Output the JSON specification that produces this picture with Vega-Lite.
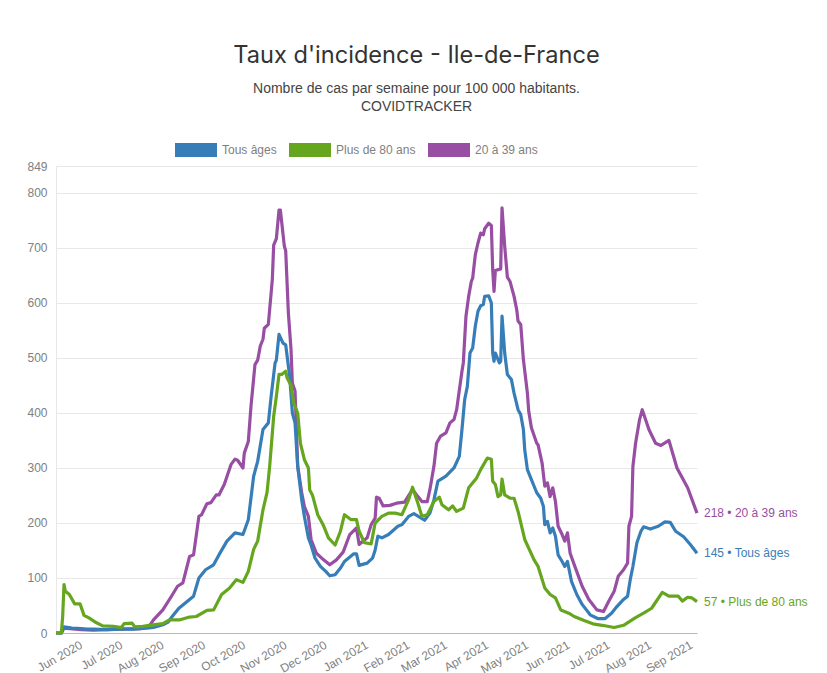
{"$schema":"https://vega.github.io/schema/vega-lite/v6.json","width":641,"height":467,"autosize":{"type":"none"},"padding":{"left":56,"top":166,"right":130,"bottom":40},"background":"white","title":{"text":"Taux d'incidence - Ile-de-France","subtitle":["Nombre de cas par semaine pour 100 000 habitants.","COVIDTRACKER"],"anchor":"middle","frame":"group","dx":40,"offset":15,"font":"Inter","fontSize":23.6,"fontWeight":"normal","color":"#333333","subtitleFont":"Liberation Sans","subtitleFontSize":14,"subtitleColor":"#444444","subtitlePadding":14,"subtitleLineHeight":18},"config":{"view":{"stroke":null},"font":"Liberation Sans"},"datasets":{"series":[
{"d":"2020-05-13","s":"20 à 39 ans","v":0},{"d":"2020-05-17","s":"20 à 39 ans","v":0},{"d":"2020-05-19","s":"20 à 39 ans","v":9},{"d":"2020-06-01","s":"20 à 39 ans","v":6},{"d":"2020-06-10","s":"20 à 39 ans","v":5},{"d":"2020-07-01","s":"20 à 39 ans","v":7},{"d":"2020-07-15","s":"20 à 39 ans","v":8},{"d":"2020-07-22","s":"20 à 39 ans","v":13},{"d":"2020-07-25","s":"20 à 39 ans","v":24},{"d":"2020-08-01","s":"20 à 39 ans","v":42},{"d":"2020-08-07","s":"20 à 39 ans","v":65},{"d":"2020-08-12","s":"20 à 39 ans","v":85},{"d":"2020-08-16","s":"20 à 39 ans","v":91},{"d":"2020-08-21","s":"20 à 39 ans","v":139},{"d":"2020-08-24","s":"20 à 39 ans","v":142},{"d":"2020-08-28","s":"20 à 39 ans","v":212},{"d":"2020-08-30","s":"20 à 39 ans","v":215},{"d":"2020-09-03","s":"20 à 39 ans","v":235},{"d":"2020-09-06","s":"20 à 39 ans","v":237},{"d":"2020-09-10","s":"20 à 39 ans","v":251},{"d":"2020-09-12","s":"20 à 39 ans","v":251},{"d":"2020-09-16","s":"20 à 39 ans","v":270},{"d":"2020-09-21","s":"20 à 39 ans","v":306},{"d":"2020-09-24","s":"20 à 39 ans","v":316},{"d":"2020-09-26","s":"20 à 39 ans","v":314},{"d":"2020-09-30","s":"20 à 39 ans","v":300},{"d":"2020-10-01","s":"20 à 39 ans","v":327},{"d":"2020-10-04","s":"20 à 39 ans","v":348},{"d":"2020-10-06","s":"20 à 39 ans","v":412},{"d":"2020-10-09","s":"20 à 39 ans","v":488},{"d":"2020-10-11","s":"20 à 39 ans","v":496},{"d":"2020-10-13","s":"20 à 39 ans","v":522},{"d":"2020-10-15","s":"20 à 39 ans","v":534},{"d":"2020-10-16","s":"20 à 39 ans","v":554},{"d":"2020-10-19","s":"20 à 39 ans","v":561},{"d":"2020-10-22","s":"20 à 39 ans","v":643},{"d":"2020-10-23","s":"20 à 39 ans","v":705},{"d":"2020-10-25","s":"20 à 39 ans","v":717},{"d":"2020-10-27","s":"20 à 39 ans","v":769},{"d":"2020-10-28","s":"20 à 39 ans","v":769},{"d":"2020-10-31","s":"20 à 39 ans","v":703},{"d":"2020-11-01","s":"20 à 39 ans","v":695},{"d":"2020-11-03","s":"20 à 39 ans","v":582},{"d":"2020-11-05","s":"20 à 39 ans","v":515},{"d":"2020-11-06","s":"20 à 39 ans","v":454},{"d":"2020-11-08","s":"20 à 39 ans","v":440},{"d":"2020-11-10","s":"20 à 39 ans","v":303},{"d":"2020-11-13","s":"20 à 39 ans","v":255},{"d":"2020-11-15","s":"20 à 39 ans","v":230},{"d":"2020-11-18","s":"20 à 39 ans","v":212},{"d":"2020-11-20","s":"20 à 39 ans","v":170},{"d":"2020-11-24","s":"20 à 39 ans","v":145},{"d":"2020-11-28","s":"20 à 39 ans","v":136},{"d":"2020-12-04","s":"20 à 39 ans","v":124},{"d":"2020-12-09","s":"20 à 39 ans","v":133},{"d":"2020-12-14","s":"20 à 39 ans","v":147},{"d":"2020-12-19","s":"20 à 39 ans","v":179},{"d":"2020-12-24","s":"20 à 39 ans","v":191},{"d":"2020-12-26","s":"20 à 39 ans","v":161},{"d":"2021-01-01","s":"20 à 39 ans","v":173},{"d":"2021-01-04","s":"20 à 39 ans","v":197},{"d":"2021-01-07","s":"20 à 39 ans","v":209},{"d":"2021-01-08","s":"20 à 39 ans","v":247},{"d":"2021-01-10","s":"20 à 39 ans","v":245},{"d":"2021-01-13","s":"20 à 39 ans","v":231},{"d":"2021-01-18","s":"20 à 39 ans","v":232},{"d":"2021-01-23","s":"20 à 39 ans","v":236},{"d":"2021-01-29","s":"20 à 39 ans","v":238},{"d":"2021-02-04","s":"20 à 39 ans","v":261},{"d":"2021-02-08","s":"20 à 39 ans","v":248},{"d":"2021-02-11","s":"20 à 39 ans","v":239},{"d":"2021-02-15","s":"20 à 39 ans","v":239},{"d":"2021-02-17","s":"20 à 39 ans","v":261},{"d":"2021-02-20","s":"20 à 39 ans","v":303},{"d":"2021-02-22","s":"20 à 39 ans","v":345},{"d":"2021-02-25","s":"20 à 39 ans","v":358},{"d":"2021-03-01","s":"20 à 39 ans","v":364},{"d":"2021-03-04","s":"20 à 39 ans","v":382},{"d":"2021-03-07","s":"20 à 39 ans","v":388},{"d":"2021-03-09","s":"20 à 39 ans","v":406},{"d":"2021-03-13","s":"20 à 39 ans","v":476},{"d":"2021-03-14","s":"20 à 39 ans","v":491},{"d":"2021-03-16","s":"20 à 39 ans","v":576},{"d":"2021-03-18","s":"20 à 39 ans","v":612},{"d":"2021-03-20","s":"20 à 39 ans","v":639},{"d":"2021-03-21","s":"20 à 39 ans","v":645},{"d":"2021-03-23","s":"20 à 39 ans","v":688},{"d":"2021-03-25","s":"20 à 39 ans","v":709},{"d":"2021-03-27","s":"20 à 39 ans","v":727},{"d":"2021-03-29","s":"20 à 39 ans","v":724},{"d":"2021-03-30","s":"20 à 39 ans","v":735},{"d":"2021-04-02","s":"20 à 39 ans","v":745},{"d":"2021-04-04","s":"20 à 39 ans","v":741},{"d":"2021-04-05","s":"20 à 39 ans","v":661},{"d":"2021-04-06","s":"20 à 39 ans","v":621},{"d":"2021-04-07","s":"20 à 39 ans","v":659},{"d":"2021-04-11","s":"20 à 39 ans","v":662},{"d":"2021-04-12","s":"20 à 39 ans","v":773},{"d":"2021-04-14","s":"20 à 39 ans","v":703},{"d":"2021-04-16","s":"20 à 39 ans","v":647},{"d":"2021-04-18","s":"20 à 39 ans","v":639},{"d":"2021-04-21","s":"20 à 39 ans","v":612},{"d":"2021-04-23","s":"20 à 39 ans","v":588},{"d":"2021-04-24","s":"20 à 39 ans","v":567},{"d":"2021-04-26","s":"20 à 39 ans","v":561},{"d":"2021-04-28","s":"20 à 39 ans","v":497},{"d":"2021-05-01","s":"20 à 39 ans","v":436},{"d":"2021-05-02","s":"20 à 39 ans","v":403},{"d":"2021-05-04","s":"20 à 39 ans","v":373},{"d":"2021-05-08","s":"20 à 39 ans","v":345},{"d":"2021-05-09","s":"20 à 39 ans","v":342},{"d":"2021-05-12","s":"20 à 39 ans","v":309},{"d":"2021-05-14","s":"20 à 39 ans","v":267},{"d":"2021-05-16","s":"20 à 39 ans","v":273},{"d":"2021-05-18","s":"20 à 39 ans","v":248},{"d":"2021-05-20","s":"20 à 39 ans","v":264},{"d":"2021-05-22","s":"20 à 39 ans","v":239},{"d":"2021-05-24","s":"20 à 39 ans","v":194},{"d":"2021-05-27","s":"20 à 39 ans","v":179},{"d":"2021-05-29","s":"20 à 39 ans","v":167},{"d":"2021-05-31","s":"20 à 39 ans","v":182},{"d":"2021-06-02","s":"20 à 39 ans","v":145},{"d":"2021-06-06","s":"20 à 39 ans","v":118},{"d":"2021-06-11","s":"20 à 39 ans","v":85},{"d":"2021-06-16","s":"20 à 39 ans","v":61},{"d":"2021-06-22","s":"20 à 39 ans","v":42},{"d":"2021-06-27","s":"20 à 39 ans","v":39},{"d":"2021-07-01","s":"20 à 39 ans","v":58},{"d":"2021-07-05","s":"20 à 39 ans","v":76},{"d":"2021-07-08","s":"20 à 39 ans","v":103},{"d":"2021-07-12","s":"20 à 39 ans","v":115},{"d":"2021-07-15","s":"20 à 39 ans","v":127},{"d":"2021-07-16","s":"20 à 39 ans","v":194},{"d":"2021-07-18","s":"20 à 39 ans","v":212},{"d":"2021-07-19","s":"20 à 39 ans","v":303},{"d":"2021-07-21","s":"20 à 39 ans","v":345},{"d":"2021-07-24","s":"20 à 39 ans","v":388},{"d":"2021-07-26","s":"20 à 39 ans","v":406},{"d":"2021-07-31","s":"20 à 39 ans","v":370},{"d":"2021-08-05","s":"20 à 39 ans","v":345},{"d":"2021-08-09","s":"20 à 39 ans","v":341},{"d":"2021-08-15","s":"20 à 39 ans","v":350},{"d":"2021-08-21","s":"20 à 39 ans","v":300},{"d":"2021-08-29","s":"20 à 39 ans","v":264},{"d":"2021-09-05","s":"20 à 39 ans","v":218},
{"d":"2020-05-13","s":"Tous âges","v":0},{"d":"2020-05-17","s":"Tous âges","v":0},{"d":"2020-05-19","s":"Tous âges","v":11},{"d":"2020-05-25","s":"Tous âges","v":9},{"d":"2020-06-01","s":"Tous âges","v":8},{"d":"2020-06-05","s":"Tous âges","v":7},{"d":"2020-06-10","s":"Tous âges","v":7},{"d":"2020-06-20","s":"Tous âges","v":6},{"d":"2020-07-01","s":"Tous âges","v":7},{"d":"2020-07-10","s":"Tous âges","v":7},{"d":"2020-07-20","s":"Tous âges","v":9},{"d":"2020-07-25","s":"Tous âges","v":10},{"d":"2020-08-01","s":"Tous âges","v":15},{"d":"2020-08-05","s":"Tous âges","v":20},{"d":"2020-08-08","s":"Tous âges","v":30},{"d":"2020-08-13","s":"Tous âges","v":45},{"d":"2020-08-24","s":"Tous âges","v":67},{"d":"2020-08-28","s":"Tous âges","v":100},{"d":"2020-09-02","s":"Tous âges","v":115},{"d":"2020-09-08","s":"Tous âges","v":124},{"d":"2020-09-12","s":"Tous âges","v":142},{"d":"2020-09-18","s":"Tous âges","v":167},{"d":"2020-09-24","s":"Tous âges","v":182},{"d":"2020-09-30","s":"Tous âges","v":179},{"d":"2020-10-04","s":"Tous âges","v":206},{"d":"2020-10-08","s":"Tous âges","v":285},{"d":"2020-10-11","s":"Tous âges","v":312},{"d":"2020-10-15","s":"Tous âges","v":370},{"d":"2020-10-19","s":"Tous âges","v":382},{"d":"2020-10-21","s":"Tous âges","v":428},{"d":"2020-10-24","s":"Tous âges","v":490},{"d":"2020-10-25","s":"Tous âges","v":496},{"d":"2020-10-27","s":"Tous âges","v":543},{"d":"2020-10-30","s":"Tous âges","v":527},{"d":"2020-11-01","s":"Tous âges","v":524},{"d":"2020-11-04","s":"Tous âges","v":466},{"d":"2020-11-06","s":"Tous âges","v":400},{"d":"2020-11-08","s":"Tous âges","v":382},{"d":"2020-11-10","s":"Tous âges","v":303},{"d":"2020-11-13","s":"Tous âges","v":242},{"d":"2020-11-15","s":"Tous âges","v":212},{"d":"2020-11-18","s":"Tous âges","v":173},{"d":"2020-11-20","s":"Tous âges","v":160},{"d":"2020-11-23","s":"Tous âges","v":136},{"d":"2020-11-27","s":"Tous âges","v":121},{"d":"2020-12-01","s":"Tous âges","v":112},{"d":"2020-12-04","s":"Tous âges","v":104},{"d":"2020-12-08","s":"Tous âges","v":106},{"d":"2020-12-12","s":"Tous âges","v":118},{"d":"2020-12-15","s":"Tous âges","v":130},{"d":"2020-12-22","s":"Tous âges","v":144},{"d":"2020-12-24","s":"Tous âges","v":144},{"d":"2020-12-26","s":"Tous âges","v":123},{"d":"2021-01-01","s":"Tous âges","v":127},{"d":"2021-01-05","s":"Tous âges","v":136},{"d":"2021-01-07","s":"Tous âges","v":151},{"d":"2021-01-09","s":"Tous âges","v":176},{"d":"2021-01-12","s":"Tous âges","v":173},{"d":"2021-01-17","s":"Tous âges","v":179},{"d":"2021-01-24","s":"Tous âges","v":194},{"d":"2021-01-27","s":"Tous âges","v":197},{"d":"2021-02-01","s":"Tous âges","v":212},{"d":"2021-02-05","s":"Tous âges","v":217},{"d":"2021-02-13","s":"Tous âges","v":205},{"d":"2021-02-17","s":"Tous âges","v":218},{"d":"2021-02-20","s":"Tous âges","v":242},{"d":"2021-02-23","s":"Tous âges","v":276},{"d":"2021-03-01","s":"Tous âges","v":285},{"d":"2021-03-07","s":"Tous âges","v":300},{"d":"2021-03-11","s":"Tous âges","v":321},{"d":"2021-03-13","s":"Tous âges","v":370},{"d":"2021-03-15","s":"Tous âges","v":424},{"d":"2021-03-17","s":"Tous âges","v":448},{"d":"2021-03-19","s":"Tous âges","v":509},{"d":"2021-03-21","s":"Tous âges","v":518},{"d":"2021-03-23","s":"Tous âges","v":558},{"d":"2021-03-25","s":"Tous âges","v":585},{"d":"2021-03-27","s":"Tous âges","v":595},{"d":"2021-03-29","s":"Tous âges","v":597},{"d":"2021-03-30","s":"Tous âges","v":612},{"d":"2021-04-02","s":"Tous âges","v":613},{"d":"2021-04-04","s":"Tous âges","v":600},{"d":"2021-04-05","s":"Tous âges","v":509},{"d":"2021-04-06","s":"Tous âges","v":494},{"d":"2021-04-07","s":"Tous âges","v":509},{"d":"2021-04-10","s":"Tous âges","v":491},{"d":"2021-04-11","s":"Tous âges","v":494},{"d":"2021-04-12","s":"Tous âges","v":576},{"d":"2021-04-14","s":"Tous âges","v":509},{"d":"2021-04-16","s":"Tous âges","v":470},{"d":"2021-04-19","s":"Tous âges","v":461},{"d":"2021-04-21","s":"Tous âges","v":436},{"d":"2021-04-24","s":"Tous âges","v":406},{"d":"2021-04-26","s":"Tous âges","v":397},{"d":"2021-04-28","s":"Tous âges","v":370},{"d":"2021-04-29","s":"Tous âges","v":333},{"d":"2021-05-01","s":"Tous âges","v":297},{"d":"2021-05-04","s":"Tous âges","v":279},{"d":"2021-05-08","s":"Tous âges","v":255},{"d":"2021-05-11","s":"Tous âges","v":245},{"d":"2021-05-13","s":"Tous âges","v":230},{"d":"2021-05-14","s":"Tous âges","v":197},{"d":"2021-05-16","s":"Tous âges","v":203},{"d":"2021-05-18","s":"Tous âges","v":182},{"d":"2021-05-20","s":"Tous âges","v":191},{"d":"2021-05-22","s":"Tous âges","v":176},{"d":"2021-05-24","s":"Tous âges","v":142},{"d":"2021-05-27","s":"Tous âges","v":130},{"d":"2021-05-29","s":"Tous âges","v":121},{"d":"2021-05-31","s":"Tous âges","v":130},{"d":"2021-06-03","s":"Tous âges","v":94},{"d":"2021-06-07","s":"Tous âges","v":70},{"d":"2021-06-11","s":"Tous âges","v":52},{"d":"2021-06-17","s":"Tous âges","v":33},{"d":"2021-06-23","s":"Tous âges","v":26},{"d":"2021-06-28","s":"Tous âges","v":26},{"d":"2021-07-03","s":"Tous âges","v":36},{"d":"2021-07-07","s":"Tous âges","v":48},{"d":"2021-07-12","s":"Tous âges","v":61},{"d":"2021-07-15","s":"Tous âges","v":67},{"d":"2021-07-17","s":"Tous âges","v":97},{"d":"2021-07-19","s":"Tous âges","v":121},{"d":"2021-07-22","s":"Tous âges","v":164},{"d":"2021-07-25","s":"Tous âges","v":185},{"d":"2021-07-27","s":"Tous âges","v":193},{"d":"2021-08-01","s":"Tous âges","v":189},{"d":"2021-08-07","s":"Tous âges","v":194},{"d":"2021-08-12","s":"Tous âges","v":202},{"d":"2021-08-16","s":"Tous âges","v":201},{"d":"2021-08-20","s":"Tous âges","v":185},{"d":"2021-08-26","s":"Tous âges","v":175},{"d":"2021-08-31","s":"Tous âges","v":161},{"d":"2021-09-05","s":"Tous âges","v":145},
{"d":"2020-05-13","s":"Plus de 80 ans","v":0},{"d":"2020-05-17","s":"Plus de 80 ans","v":0},{"d":"2020-05-18","s":"Plus de 80 ans","v":30},{"d":"2020-05-19","s":"Plus de 80 ans","v":88},{"d":"2020-05-20","s":"Plus de 80 ans","v":76},{"d":"2020-05-23","s":"Plus de 80 ans","v":70},{"d":"2020-05-27","s":"Plus de 80 ans","v":53},{"d":"2020-05-31","s":"Plus de 80 ans","v":53},{"d":"2020-06-03","s":"Plus de 80 ans","v":32},{"d":"2020-06-07","s":"Plus de 80 ans","v":27},{"d":"2020-06-12","s":"Plus de 80 ans","v":19},{"d":"2020-06-17","s":"Plus de 80 ans","v":13},{"d":"2020-06-25","s":"Plus de 80 ans","v":12},{"d":"2020-07-01","s":"Plus de 80 ans","v":10},{"d":"2020-07-03","s":"Plus de 80 ans","v":17},{"d":"2020-07-09","s":"Plus de 80 ans","v":18},{"d":"2020-07-11","s":"Plus de 80 ans","v":11},{"d":"2020-07-17","s":"Plus de 80 ans","v":12},{"d":"2020-07-22","s":"Plus de 80 ans","v":14},{"d":"2020-08-01","s":"Plus de 80 ans","v":17},{"d":"2020-08-06","s":"Plus de 80 ans","v":24},{"d":"2020-08-14","s":"Plus de 80 ans","v":24},{"d":"2020-08-21","s":"Plus de 80 ans","v":29},{"d":"2020-08-26","s":"Plus de 80 ans","v":30},{"d":"2020-09-03","s":"Plus de 80 ans","v":41},{"d":"2020-09-08","s":"Plus de 80 ans","v":42},{"d":"2020-09-14","s":"Plus de 80 ans","v":70},{"d":"2020-09-20","s":"Plus de 80 ans","v":82},{"d":"2020-09-25","s":"Plus de 80 ans","v":97},{"d":"2020-09-30","s":"Plus de 80 ans","v":92},{"d":"2020-10-04","s":"Plus de 80 ans","v":112},{"d":"2020-10-08","s":"Plus de 80 ans","v":152},{"d":"2020-10-11","s":"Plus de 80 ans","v":167},{"d":"2020-10-15","s":"Plus de 80 ans","v":224},{"d":"2020-10-18","s":"Plus de 80 ans","v":255},{"d":"2020-10-20","s":"Plus de 80 ans","v":303},{"d":"2020-10-23","s":"Plus de 80 ans","v":394},{"d":"2020-10-25","s":"Plus de 80 ans","v":430},{"d":"2020-10-27","s":"Plus de 80 ans","v":470},{"d":"2020-10-29","s":"Plus de 80 ans","v":470},{"d":"2020-11-01","s":"Plus de 80 ans","v":476},{"d":"2020-11-02","s":"Plus de 80 ans","v":464},{"d":"2020-11-05","s":"Plus de 80 ans","v":450},{"d":"2020-11-07","s":"Plus de 80 ans","v":418},{"d":"2020-11-10","s":"Plus de 80 ans","v":400},{"d":"2020-11-12","s":"Plus de 80 ans","v":345},{"d":"2020-11-15","s":"Plus de 80 ans","v":315},{"d":"2020-11-18","s":"Plus de 80 ans","v":300},{"d":"2020-11-19","s":"Plus de 80 ans","v":260},{"d":"2020-11-21","s":"Plus de 80 ans","v":251},{"d":"2020-11-25","s":"Plus de 80 ans","v":215},{"d":"2020-11-29","s":"Plus de 80 ans","v":197},{"d":"2020-12-03","s":"Plus de 80 ans","v":173},{"d":"2020-12-08","s":"Plus de 80 ans","v":160},{"d":"2020-12-12","s":"Plus de 80 ans","v":185},{"d":"2020-12-15","s":"Plus de 80 ans","v":215},{"d":"2020-12-20","s":"Plus de 80 ans","v":206},{"d":"2020-12-24","s":"Plus de 80 ans","v":206},{"d":"2020-12-26","s":"Plus de 80 ans","v":185},{"d":"2020-12-30","s":"Plus de 80 ans","v":164},{"d":"2021-01-04","s":"Plus de 80 ans","v":162},{"d":"2021-01-07","s":"Plus de 80 ans","v":200},{"d":"2021-01-12","s":"Plus de 80 ans","v":212},{"d":"2021-01-17","s":"Plus de 80 ans","v":218},{"d":"2021-01-22","s":"Plus de 80 ans","v":218},{"d":"2021-01-27","s":"Plus de 80 ans","v":215},{"d":"2021-02-01","s":"Plus de 80 ans","v":242},{"d":"2021-02-04","s":"Plus de 80 ans","v":265},{"d":"2021-02-08","s":"Plus de 80 ans","v":236},{"d":"2021-02-11","s":"Plus de 80 ans","v":212},{"d":"2021-02-15","s":"Plus de 80 ans","v":215},{"d":"2021-02-20","s":"Plus de 80 ans","v":239},{"d":"2021-02-24","s":"Plus de 80 ans","v":247},{"d":"2021-02-26","s":"Plus de 80 ans","v":233},{"d":"2021-03-03","s":"Plus de 80 ans","v":224},{"d":"2021-03-06","s":"Plus de 80 ans","v":231},{"d":"2021-03-09","s":"Plus de 80 ans","v":221},{"d":"2021-03-14","s":"Plus de 80 ans","v":227},{"d":"2021-03-18","s":"Plus de 80 ans","v":264},{"d":"2021-03-24","s":"Plus de 80 ans","v":282},{"d":"2021-03-27","s":"Plus de 80 ans","v":297},{"d":"2021-04-01","s":"Plus de 80 ans","v":318},{"d":"2021-04-04","s":"Plus de 80 ans","v":316},{"d":"2021-04-05","s":"Plus de 80 ans","v":276},{"d":"2021-04-07","s":"Plus de 80 ans","v":270},{"d":"2021-04-09","s":"Plus de 80 ans","v":248},{"d":"2021-04-11","s":"Plus de 80 ans","v":251},{"d":"2021-04-12","s":"Plus de 80 ans","v":280},{"d":"2021-04-14","s":"Plus de 80 ans","v":251},{"d":"2021-04-18","s":"Plus de 80 ans","v":245},{"d":"2021-04-21","s":"Plus de 80 ans","v":245},{"d":"2021-04-24","s":"Plus de 80 ans","v":221},{"d":"2021-04-29","s":"Plus de 80 ans","v":170},{"d":"2021-05-06","s":"Plus de 80 ans","v":133},{"d":"2021-05-09","s":"Plus de 80 ans","v":121},{"d":"2021-05-14","s":"Plus de 80 ans","v":82},{"d":"2021-05-18","s":"Plus de 80 ans","v":70},{"d":"2021-05-22","s":"Plus de 80 ans","v":64},{"d":"2021-05-26","s":"Plus de 80 ans","v":42},{"d":"2021-06-01","s":"Plus de 80 ans","v":36},{"d":"2021-06-05","s":"Plus de 80 ans","v":30},{"d":"2021-06-12","s":"Plus de 80 ans","v":23},{"d":"2021-06-20","s":"Plus de 80 ans","v":16},{"d":"2021-06-26","s":"Plus de 80 ans","v":14},{"d":"2021-07-05","s":"Plus de 80 ans","v":10},{"d":"2021-07-12","s":"Plus de 80 ans","v":14},{"d":"2021-07-21","s":"Plus de 80 ans","v":28},{"d":"2021-07-27","s":"Plus de 80 ans","v":36},{"d":"2021-08-02","s":"Plus de 80 ans","v":45},{"d":"2021-08-10","s":"Plus de 80 ans","v":74},{"d":"2021-08-15","s":"Plus de 80 ans","v":67},{"d":"2021-08-22","s":"Plus de 80 ans","v":67},{"d":"2021-08-25","s":"Plus de 80 ans","v":58},{"d":"2021-08-29","s":"Plus de 80 ans","v":65},{"d":"2021-09-01","s":"Plus de 80 ans","v":64},{"d":"2021-09-05","s":"Plus de 80 ans","v":57}
],"ends":[{"d":"2021-09-05","s":"20 à 39 ans","v":218,"label":"218 • 20 à 39 ans"},{"d":"2021-09-05","s":"Tous âges","v":145,"label":"145 • Tous âges"},{"d":"2021-09-05","s":"Plus de 80 ans","v":57,"label":"57 • Plus de 80 ans"}]},
"layer":[
{"data":{"name":"series"},"mark":{"type":"line","strokeWidth":3.2,"strokeJoin":"round","clip":false},"encoding":{
"x":{"field":"d","type":"temporal","scale":{"domain":["2020-05-13","2021-09-05"]},"axis":{"title":null,"grid":false,"ticks":false,"domain":true,"domainColor":"#b8b8b8","values":["2020-06-01","2020-07-01","2020-08-01","2020-09-01","2020-10-01","2020-11-01","2020-12-01","2021-01-01","2021-02-01","2021-03-01","2021-04-01","2021-05-01","2021-06-01","2021-07-01","2021-08-01","2021-09-01"],"format":"%b %Y","labelAngle":-30,"labelAlign":"right","labelBaseline":"top","labelPadding":6,"labelOffset":-3,"labelFontSize":12,"labelColor":"#808080","labelFont":"Liberation Sans","labelOverlap":false,"labelBound":false,"labelFlush":false}},
"y":{"field":"v","type":"quantitative","scale":{"domain":[0,849],"nice":false},"axis":{"title":null,"values":[0,100,200,300,400,500,600,700,800,849],"grid":true,"gridColor":"#e8e8e8","ticks":false,"domain":true,"domainColor":"#e8e8e8","labelPadding":9,"labelFontSize":12,"labelColor":"#808080","labelFont":"Liberation Sans","labelOverlap":false}},
"color":{"field":"s","type":"nominal","scale":{"domain":["Tous âges","Plus de 80 ans","20 à 39 ans"],"range":["#377eb8","#66a61e","#984ea3"]},"legend":{"title":null,"orient":"none","legendX":119,"legendY":-37,"direction":"horizontal","columns":3,"symbolType":"M-1.5,0H1.5","symbolSize":784,"symbolStrokeWidth":14,"symbolOpacity":1,"labelOffset":5,"labelFontSize":12,"labelColor":"#808080","labelFont":"Liberation Sans","columnPadding":-16}}}},
{"data":{"name":"ends"},"mark":{"type":"text","align":"left","dx":7,"fontSize":12,"font":"Liberation Sans","clip":false},"encoding":{"x":{"field":"d","type":"temporal"},"y":{"field":"v","type":"quantitative"},"text":{"field":"label"},"color":{"field":"s","type":"nominal","legend":null}}}
]}
